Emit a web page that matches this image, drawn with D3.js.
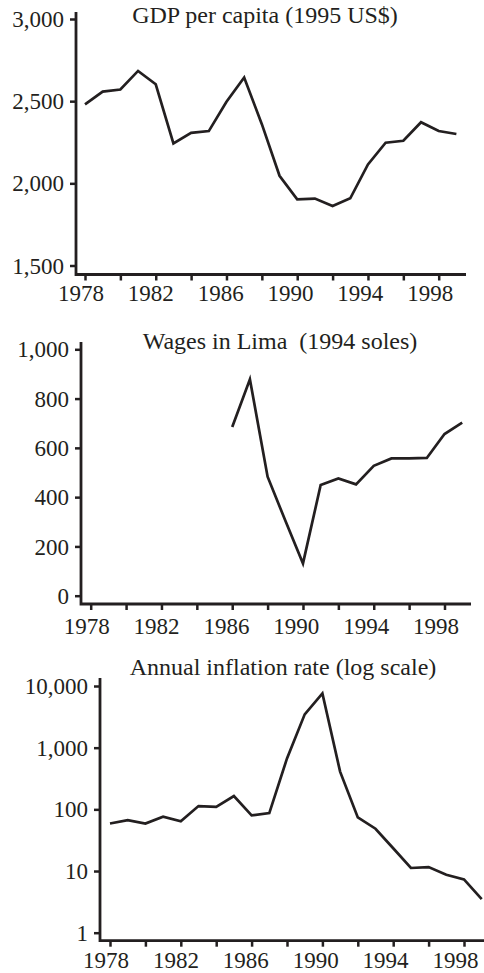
<!DOCTYPE html>
<html>
<head>
<meta charset="utf-8">
<script src="https://cdnjs.cloudflare.com/ajax/libs/d3/7.8.5/d3.min.js"></script>
<style>
  body { margin: 0; background: #fff; }
  svg { display: block; }
  text { font-family: "Liberation Serif", "DejaVu Serif", serif; fill: #231f20; }
</style>
</head>
<body>
<script>
// Data
var years = [1978, 1979, 1980, 1981, 1982, 1983, 1984, 1985, 1986, 1987, 1988,
             1989, 1990, 1991, 1992, 1993, 1994, 1995, 1996, 1997, 1998, 1999];
var gdp = [2480, 2558, 2571, 2684, 2603, 2243, 2307, 2318, 2496, 2644, 2360,
           2046, 1903, 1907, 1862, 1909, 2115, 2247, 2259, 2372, 2318, 2300];

var wageYears = [1986, 1987, 1988, 1989, 1990, 1991, 1992, 1993, 1994, 1995, 1996, 1997, 1998, 1999];
var wages = [685, 878, 483, 305, 131, 449, 476, 452, 527, 557, 557, 559, 656, 702];

var inflation = [59, 67, 59, 76, 64, 113, 110, 164, 80, 87, 670,
                 3470, 7580, 409, 74, 48.5, 23.4, 11.2, 11.6, 8.7, 7.3, 3.5];

var xTicks = [1978, 1980, 1982, 1984, 1986, 1988, 1990, 1992, 1994, 1996, 1998];
var xLabels = [1978, 1982, 1986, 1990, 1994, 1998];
var gdpTicks = [1500, 2000, 2500, 3000];
var wageTicks = [0, 200, 400, 600, 800, 1000];
var inflTicks = [1, 10, 100, 1000, 10000];

var titles = ["GDP per capita (1995 US$)", "Wages in Lima\u00a0\u00a0(1994 soles)", "Annual inflation rate (log scale)"];

var svgWidth = 484;
var svgHeight = 973;
var ink = "#231f20";

var svg = d3.select("body")
    .append("svg")
    .attr("width", svgWidth)
    .attr("height", svgHeight);

// one panel per series
function panel(opt) {
    var g = svg.append("g");

    var xScale = d3.scaleLinear()
        .domain([1978, 1998])
        .range([opt.x0, opt.x1]);
    // year labels sit a little left of their ticks, more so to the right
    var labelScale = d3.scaleLinear()
        .domain([1978, 1998])
        .range([opt.x0 - 4, opt.x1 - 8.5]);

    var yScale = (opt.log ? d3.scaleLog() : d3.scaleLinear())
        .domain(opt.yDomain)
        .range([opt.yBot, opt.yTop]);

    // x axis (ticks)
    var xAxis = d3.axisBottom(xScale)
        .tickValues(xTicks)
        .tickSize(6)
        .tickFormat("");
    var gx = g.append("g")
        .attr("transform", `translate(0,${opt.axisY})`)
        .call(xAxis);
    gx.select(".domain").remove();
    gx.selectAll("line").attr("stroke", ink).attr("stroke-width", 2.5);

    // x labels
    g.append("g")
        .selectAll("text")
        .data(xLabels)
        .enter()
        .append("text")
        .attr("x", function(d) { return labelScale(d); })
        .attr("y", opt.axisY + opt.labelGap)
        .attr("text-anchor", "middle")
        .attr("font-size", 23)
        .attr("fill", ink)
        .text(function(d) { return d; });

    // y axis
    var yAxis = d3.axisLeft(yScale)
        .tickValues(opt.yTicks)
        .tickSize(6)
        .tickFormat(d3.format(","));
    var gy = g.append("g")
        .attr("transform", `translate(${opt.axisX},0)`)
        .call(yAxis);
    gy.select(".domain").remove();
    gy.selectAll("line").attr("stroke", ink).attr("stroke-width", 2.5);
    gy.selectAll("text")
        .attr("fill", ink)
        .attr("font-size", 23)
        .attr("font-family", "Liberation Serif")
        .attr("x", -12)
        .attr("dy", "0.33em");

    // L-shaped frame
    g.append("path")
        .attr("d", `M${opt.axisX},${opt.frameTop}V${opt.axisY}H${opt.frameRight}`)
        .attr("fill", "none")
        .attr("stroke", ink)
        .attr("stroke-width", 2.8);

    // series line
    var line = d3.line()
        .x(function(d) { return xScale(d[0]); })
        .y(function(d) { return yScale(d[1]); });
    g.append("path")
        .datum(d3.zip(opt.xs, opt.ys))
        .attr("d", line)
        .attr("fill", "none")
        .attr("stroke", ink)
        .attr("stroke-width", 2.7)
        .attr("stroke-linejoin", "miter");

    // title
    g.append("text")
        .attr("x", opt.titleX)
        .attr("y", opt.titleY)
        .attr("text-anchor", "middle")
        .attr("font-size", 24)
        .attr("fill", ink)
        .text(opt.title);
}

panel({
    xs: years, ys: gdp, yDomain: [1500, 3000], yTicks: gdpTicks,
    axisX: 76, x0: 85, x1: 438.7, axisY: 274.5, frameTop: 12, frameRight: 466,
    yTop: 19, yBot: 265.5, labelGap: 26.5,
    title: titles[0], titleX: 265, titleY: 23
});

panel({
    xs: wageYears, ys: wages, yDomain: [0, 1000], yTicks: wageTicks,
    axisX: 81, x0: 90.7, x1: 444.5, axisY: 604, frameTop: 342, frameRight: 471,
    yTop: 349.3, yBot: 595.7, labelGap: 30,
    title: titles[1], titleX: 280, titleY: 349
});

panel({
    xs: years, ys: inflation, yDomain: [1, 10000], yTicks: inflTicks, log: true,
    axisX: 100, x0: 110, x1: 464, axisY: 940.7, frameTop: 678, frameRight: 484,
    yTop: 686, yBot: 932.7, labelGap: 27.5,
    title: titles[2], titleX: 283, titleY: 675
});
</script>
</body>
</html>
